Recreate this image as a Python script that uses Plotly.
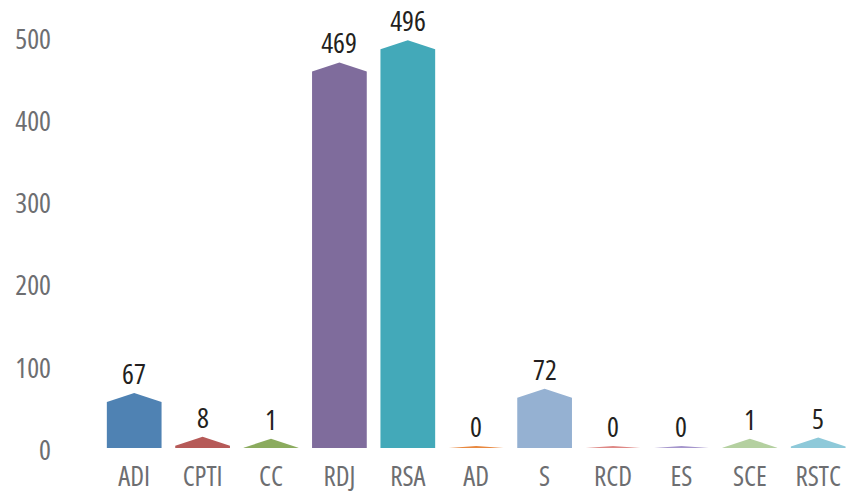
import plotly.graph_objects as go

categories = ["ADI", "CPTI", "CC", "RDJ", "RSA", "AD", "S", "RCD", "ES", "SCE", "RSTC"]
values = [67, 8, 1, 469, 496, 0, 72, 0, 0, 1, 5]
colors = ["#4f82b3", "#b65a58", "#8bab5e", "#7f6c9c", "#43a9b9", "#e8883f",
          "#95b1d2", "#de8885", "#a596cc", "#b4d0a0", "#8ec9d9"]
y_ticks = [0, 100, 200, 300, 400, 500]

FONT = "Open Sans, Noto Sans, sans-serif"
half_w = 0.4      # half bar width, in category units
peak = 11         # height of the pointed top, in value units


def bar_outline(i, v):
    # pointed "house" shape: tip sits at the value, shoulders below it
    if v <= 0:
        tip, shoulder = 2.5, 0
    else:
        shoulder = max(v - peak, 0.35 * v)
        tip = shoulder + peak
    xs = [i - half_w, i - half_w, i, i + half_w, i + half_w, i - half_w]
    ys = [0, shoulder, tip, shoulder, 0, 0]
    return xs, ys, tip


fig = go.Figure()
for i, (cat, v, col) in enumerate(zip(categories, values, colors)):
    xs, ys, tip = bar_outline(i, v)
    fig.add_trace(go.Scatter(
        x=xs, y=ys, mode="none", fill="toself", fillcolor=col,
        name=cat, hoverinfo="skip",
    ))
    # value label above the tip
    fig.add_annotation(
        x=i, y=tip, text=str(v), showarrow=False, yanchor="bottom", yshift=0,
        borderpad=0, font=dict(family=FONT, size=28, color="#231f20"),
    )

fig.update_layout(
    width=849, height=494,
    margin=dict(l=100, r=0, t=0, b=34),
    paper_bgcolor="white", plot_bgcolor="white",
    showlegend=False,
    xaxis=dict(
        range=[-0.5, 10.45], tickvals=list(range(len(categories))),
        ticktext=categories, showgrid=False, zeroline=False, showline=False,
        ticks="", ticklabelstandoff=-2,
        tickfont=dict(family=FONT, size=27, color="#6d6e71"),
        automargin=False, ticklabeloverflow="allow", fixedrange=True,
    ),
    yaxis=dict(
        range=[-14.6, 545], tickvals=y_ticks, showgrid=False, zeroline=False,
        showline=False, ticks="", ticklabelstandoff=48, ticklabelshift=2,
        tickfont=dict(family=FONT, size=28, color="#6d6e71"),
        automargin=False, ticklabeloverflow="allow", fixedrange=True,
    ),
)

# drop the page margin and use the narrow cut of the font
page_js = (
    "document.body.style.margin='0';"
    "var s=document.createElement('style');"
    "s.textContent='.main-svg text{font-stretch:75% !important;}';"
    "document.head.appendChild(s);"
)
fig.write_html("out.html", post_script=page_js,
               config={"displayModeBar": False})
